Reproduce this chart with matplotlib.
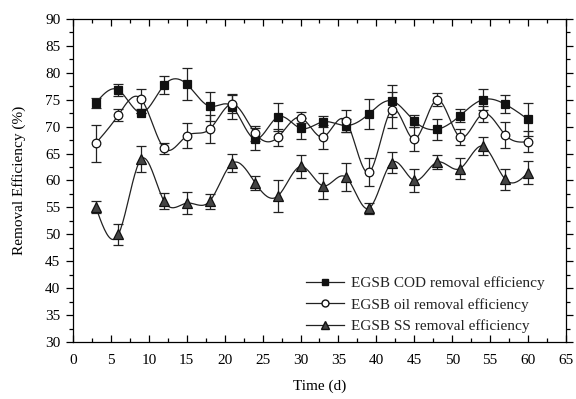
import numpy as np
import matplotlib
matplotlib.use("Agg")
import matplotlib.pyplot as plt
from matplotlib.ticker import MultipleLocator

plt.rcParams['font.family'] = ['Liberation Serif', 'DejaVu Serif']
plt.rcParams['text.color'] = '#222222'

days = [3, 6, 9, 12, 15, 18, 21, 24, 27, 30, 33, 36, 39, 42, 45, 48, 51, 54, 57, 60]
cod = [74.4, 76.8, 72.6, 77.7, 77.9, 73.8, 73.7, 67.7, 71.8, 69.7, 70.9, 70.2, 72.35, 74.8, 71.05, 69.5, 72.0, 75.0, 74.15, 71.35]
cod_err = [1.0, 1.1, 0.0, 1.7, 3.0, 2.7, 2.3, 2.1, 2.6, 2.0, 1.05, 1.2, 2.8, 3.0, 1.15, 2.0, 1.2, 1.95, 1.65, 3.0]
oil = [66.9, 72.2, 75.1, 66.0, 68.3, 69.5, 74.2, 68.8, 68.0, 71.7, 68.1, 71.05, 61.5, 73.1, 67.7, 75.0, 68.1, 72.35, 68.45, 67.2]
oil_err = [3.4, 1.1, 1.9, 1.0, 2.3, 2.6, 1.7, 1.4, 1.6, 1.1, 2.3, 2.0, 2.6, 3.4, 2.2, 1.2, 1.45, 1.5, 2.5, 2.0]
ss = [55.1, 50.0, 64.0, 56.2, 55.8, 56.1, 63.2, 59.6, 57.1, 62.6, 59.0, 60.6, 54.8, 63.3, 60.0, 63.4, 62.2, 66.4, 60.2, 61.45]
ss_err = [1.05, 2.0, 2.4, 1.5, 2.1, 1.4, 1.7, 1.3, 3.0, 2.2, 2.35, 2.6, 1.1, 1.95, 2.2, 1.3, 1.95, 1.7, 2.0, 2.1]

labels = ["EGSB COD removal efficiency", "EGSB oil removal efficiency", "EGSB SS removal efficiency"]


def natural_spline(x, y, n=400):
    x = np.asarray(x, float)
    y = np.asarray(y, float)
    m = len(x)
    h = np.diff(x)
    A = np.zeros((m, m))
    b = np.zeros(m)
    A[0, 0] = 1
    A[-1, -1] = 1
    for i in range(1, m - 1):
        A[i, i - 1] = h[i - 1]
        A[i, i] = 2 * (h[i - 1] + h[i])
        A[i, i + 1] = h[i]
        b[i] = 3 * ((y[i + 1] - y[i]) / h[i] - (y[i] - y[i - 1]) / h[i - 1])
    c = np.linalg.solve(A, b)
    xs = np.linspace(x[0], x[-1], n)
    ys = np.empty_like(xs)
    for k, xv in enumerate(xs):
        i = min(np.searchsorted(x, xv, side='right') - 1, m - 2)
        dx = xv - x[i]
        bb = (y[i + 1] - y[i]) / h[i] - h[i] * (2 * c[i] + c[i + 1]) / 3
        d = (c[i + 1] - c[i]) / (3 * h[i])
        ys[k] = y[i] + bb * dx + c[i] * dx ** 2 + d * dx ** 3
    return xs, ys


fig = plt.figure(figsize=(5.76, 3.99), dpi=100)
ax = fig.add_axes([0.1267, 0.1429, 0.8559, 0.8095])

series = [
    (cod, cod_err, dict(marker='s', mfc='#111111', mec='#111111', ms=5.2)),
    (oil, oil_err, dict(marker='o', mfc='white', mec='#111111', ms=6.2)),
    (ss, ss_err, dict(marker='^', mfc='#444444', mec='#111111', ms=6.5)),
]

handles = []
for (vals, errs, mk), lab in zip(series, labels):
    xs, ys = natural_spline(days, vals)
    ax.plot(xs, ys, color='#222222', lw=0.9, zorder=2)
    ax.errorbar(days, vals, yerr=errs, fmt='none', ecolor='#222222', elinewidth=0.9,
                capsize=3.5, capthick=0.9, zorder=3)
    ax.plot(days, vals, linestyle='none', mew=0.9, zorder=4, **mk)
    h, = ax.plot([], [], color='#222222', lw=0.9, markersize=mk['ms'] - 1.2,
                 marker=mk['marker'], mfc=mk['mfc'], mec=mk['mec'])
    handles.append(h)

ax.set_xlim(0, 65)
ax.set_ylim(30, 90)
ax.xaxis.set_major_locator(MultipleLocator(5))
ax.xaxis.set_minor_locator(MultipleLocator(2.5))
ax.yaxis.set_major_locator(MultipleLocator(5))
ax.yaxis.set_minor_locator(MultipleLocator(2.5))
ax.tick_params(axis='x', which='both', direction='in', top=True, bottom=True, labelsize=11, pad=9)
ax.tick_params(axis='y', which='both', direction='out', left=True, right=True, labelsize=11, pad=4)
ax.tick_params(which='major', length=5, width=0.9)
ax.tick_params(which='minor', length=3, width=0.9)
for s in ax.spines.values():
    s.set_linewidth(0.9)

ax.set_xlabel('Time (d)', fontsize=11, labelpad=9)
ax.set_ylabel('Removal Efficiency (%)', fontsize=11, labelpad=14)

ax.legend(handles, labels, loc='lower right', bbox_to_anchor=(0.985, -0.015), frameon=False,
          fontsize=11, handlelength=2.5, handletextpad=0.45, labelspacing=0.5)

fig.savefig('out.png', dpi=100)
